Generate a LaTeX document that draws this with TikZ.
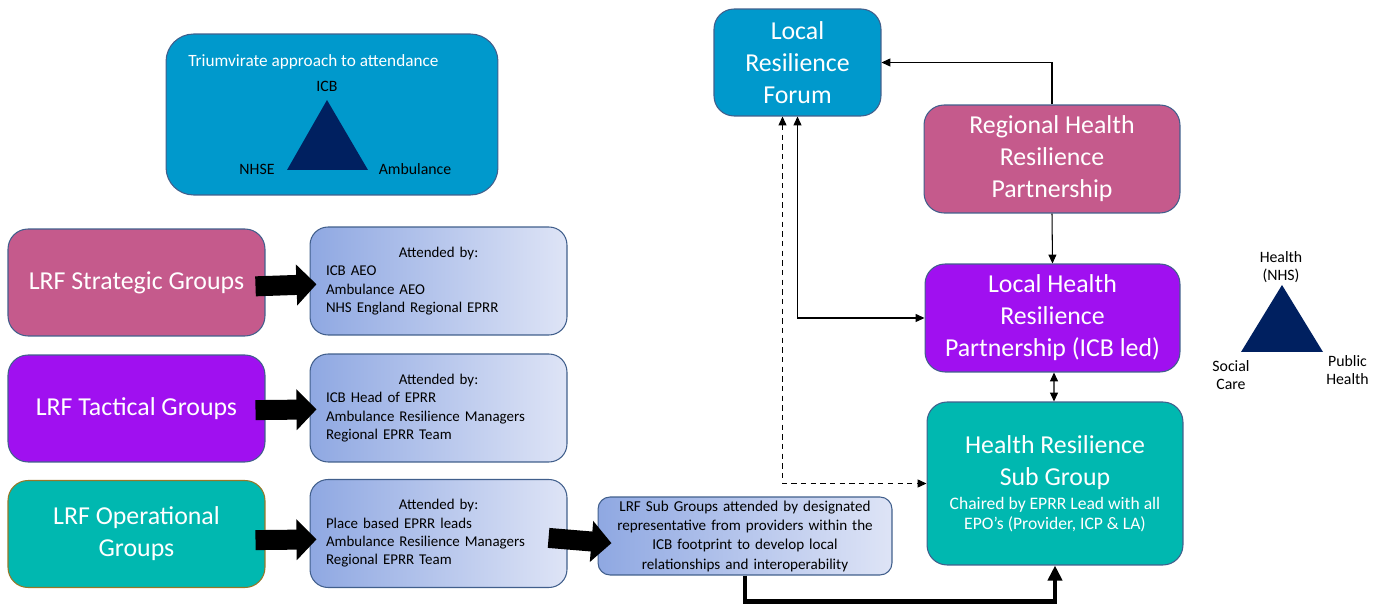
\documentclass[tikz,border=0pt]{standalone}
\usepackage{fontspec}
\setmainfont{Carlito}
\usetikzlibrary{arrows.meta,positioning}

\definecolor{azulLRF}{RGB}{0,153,204}
\definecolor{rosa}{RGB}{197,90,140}
\definecolor{morado}{RGB}{160,16,240}
\definecolor{turquesa}{RGB}{0,184,176}
\definecolor{marino}{RGB}{0,32,96}
\definecolor{borde}{RGB}{65,95,140}
\definecolor{bordeoro}{RGB}{150,120,40}
\definecolor{gradizq}{RGB}{143,168,226}
\definecolor{gradder}{RGB}{222,228,246}

\newcommand{\subtexto}{\fontsize{10}{11.3}\selectfont}

\tikzset{
  caja/.style={draw=borde, line width=0.6pt, rounded corners=0.4cm, text=white, align=center, inner sep=0pt, font=\fontsize{14.7}{18.2}\selectfont},
  grupo/.style={caja, minimum width=5.14cm, minimum height=2.14cm},
  asistencia/.style={draw=borde, line width=0.6pt, rounded corners=0.36cm, left color=gradizq, right color=gradder, minimum width=5.14cm, minimum height=2.16cm, text width=4.5cm, align=left, inner sep=0pt, font=\fontsize{8.5}{10.4}\selectfont},
  etiqueta/.style={inner sep=0pt, align=center, font=\fontsize{9}{10.2}\selectfont},
  flechagruesa/.style={line width=0.4cm, -{Triangle[length=0.4cm,width=0.8cm]}},
  conector/.style={line width=0.6pt, -{Triangle[length=5pt,width=4.5pt]}},
}

\begin{document}
\begin{tikzpicture}[x=0.02cm, y=-0.02cm]
  \useasboundingbox (0,0) rectangle (1383,607); % Marco de la figura

  % Enfoque triunvirato
  \node[caja, fill=azulLRF, minimum width=6.64cm, minimum height=3.22cm, rounded corners=0.55cm] (triunvirato) at (332,114.5) {};
  \node[anchor=west, text=white, inner sep=0pt, font=\fontsize{9.8}{12}\selectfont] (titulo) at (188,62) {Triumvirate approach to attendance};
  \fill[marino] (327,100) -- (368,170) -- (287,170) -- cycle; % Triangulo ICB / NHSE / Ambulance
  \node[etiqueta] (icb) at (327,86) {ICB};
  \node[etiqueta] (nhse) at (257,169) {NHSE};
  \node[etiqueta] (ambulancia) at (415,169) {Ambulance};

  % Grupos LRF
  \node[grupo, fill=rosa] (estrategico) at (136.5,282.5) {LRF Strategic Groups};
  \node[grupo, fill=morado] (tactico) at (136.5,408.5) {LRF Tactical Groups};
  \node[grupo, fill=turquesa, draw=bordeoro] (operativo) at (136.5,534) {LRF Operational\\Groups};

  % Asistentes
  \node[asistencia] (asis1) at (438.5,281) {\makebox[4.5cm]{Attended by:}\\ICB AEO\\Ambulance AEO\\NHS England Regional EPRR};
  \node[asistencia] (asis2) at (438.5,408) {\makebox[4.5cm]{Attended by:}\\ICB Head of EPRR\\Ambulance Resilience Managers\\Regional EPRR Team};
  \node[asistencia] (asis3) at (438.5,533.5) {\makebox[4.5cm]{Attended by:}\\Place based EPRR leads\\Ambulance Resilience Managers\\Regional EPRR Team};

  % Subgrupos LRF
  \node[asistencia, minimum width=5.88cm, minimum height=1.56cm, text width=5.6cm, align=center, rounded corners=0.24cm, font=\fontsize{8.6}{11}\selectfont] (subgrupos) at (745,536) {LRF Sub Groups attended by designated\\representative from providers within the\\ICB footprint to develop local\\relationships and interoperability};

  % Estructura de salud
  \node[caja, fill=azulLRF, minimum width=3.34cm, minimum height=2.14cm] (lrf) at (797.5,62.5) {Local\\Resilience\\Forum};
  \node[caja, fill=rosa, minimum width=5.12cm, minimum height=2.16cm] (rhrp) at (1052,159) {Regional Health\\Resilience\\Partnership};
  \node[caja, fill=morado, minimum width=5.1cm, minimum height=2.16cm] (lhrp) at (1052.5,318) {Local Health\\Resilience\\Partnership (ICB led)};
  \node[caja, fill=turquesa, minimum width=5.12cm, minimum height=3.26cm] (hrsg) at (1055,483.5) {Health Resilience\\Sub Group\\[-4.6pt]{\subtexto Chaired by EPRR Lead with all}\\[-6.9pt]{\subtexto EPO’s (Provider, ICP \& LA)}};

  % Triangulo de salud
  \fill[marino] (1282,285) -- (1323,352) -- (1241,352) -- cycle;
  \node[etiqueta] (nhs) at (1281,267.5) {Health\\(NHS)};
  \node[etiqueta] (social) at (1231,375) {Social\\Care};
  \node[etiqueta] (publica) at (1347.5,370.5) {Public\\Health};

  % Flechas de bloque
  \draw[flechagruesa, shorten <=-0.2cm, shorten >=-0.14cm] ([yshift=-0.07cm]estrategico.east) -- ([yshift=-0.07cm]asis1.west);
  \draw[flechagruesa, shorten <=-0.2cm, shorten >=-0.14cm] ([yshift=-0.03cm]tactico.east) -- ([yshift=-0.03cm]asis2.west);
  \draw[flechagruesa, shorten <=-0.2cm, shorten >=-0.14cm] ([yshift=-0.12cm]operativo.east) -- ([yshift=-0.12cm]asis3.west);
  \draw[flechagruesa, shorten <=-0.38cm, shorten >=-0.28cm] ([yshift=-0.12cm]asis3.east) -- ([yshift=-0.12cm]subgrupos.west);

  % Conectores
  \draw[conector] (rhrp.north) |- (lrf.east);
  \draw[conector] (rhrp.south) -- (lhrp.north);
  \draw[conector, {Triangle[length=5pt,width=4.5pt]}-{Triangle[length=5pt,width=4.5pt]}] (lrf.south) |- (lhrp.west);
  \draw[conector, dash pattern=on 3pt off 2.5pt, {Triangle[length=5pt,width=4.5pt]}-{Triangle[length=5pt,width=4.5pt]}] ([xshift=-0.3cm]lrf.south) |- (hrsg.west);
  \draw[conector, {Triangle[length=5pt,width=4.5pt]}-{Triangle[length=5pt,width=4.5pt]}] ([xshift=0.03cm]lhrp.south) -- ([xshift=-0.02cm]hrsg.north);
  \draw[line width=2.3pt, -{Triangle[length=0.3cm,width=0.28cm]}] (subgrupos.south) -- ++(0,26) -| (hrsg.south);
\end{tikzpicture}
\end{document}
